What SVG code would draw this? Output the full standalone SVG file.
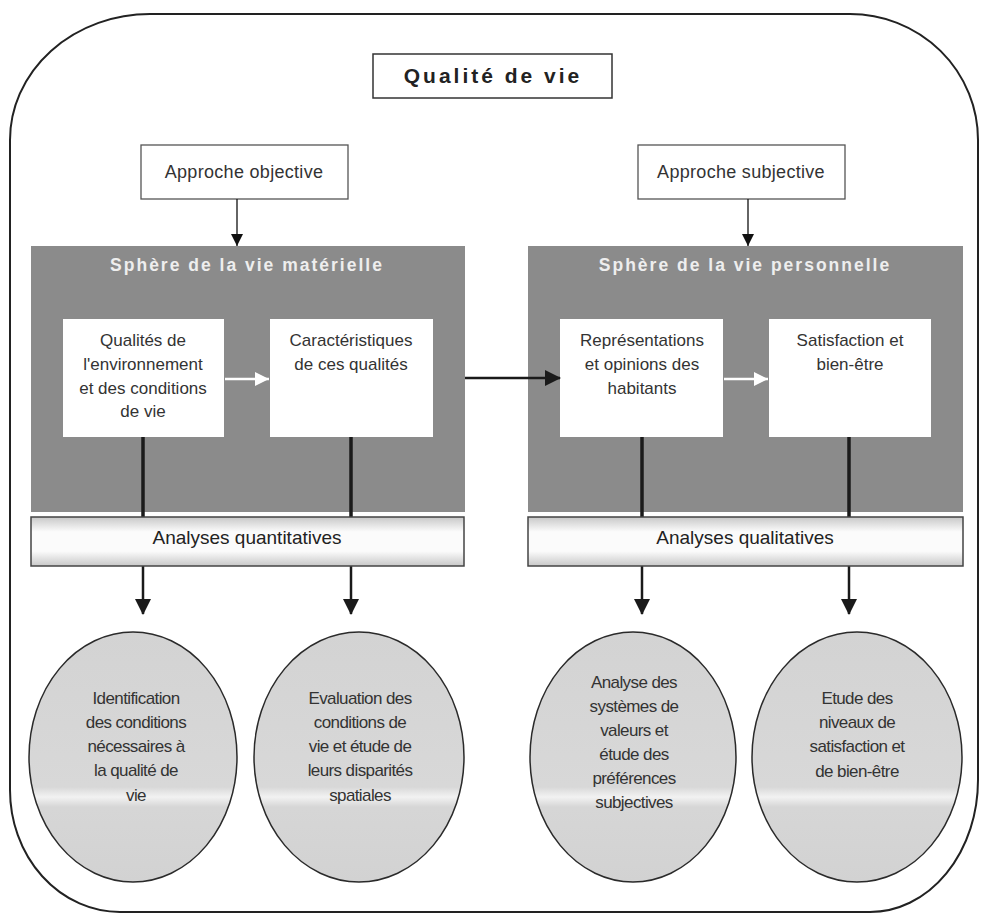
<svg xmlns="http://www.w3.org/2000/svg" width="983" height="919" viewBox="0 0 983 919">
<style>
text{font-family:"Liberation Sans",Arial,sans-serif;fill:#333;text-anchor:middle}
.title{font-size:21px;font-weight:bold;letter-spacing:3px;fill:#222}
.appr{font-size:18px;letter-spacing:0.3px}
.ptitle{font-size:17.5px;font-weight:bold;letter-spacing:2px;fill:#eee}
.box{font-size:17px}
.bar{font-size:19px;fill:#222}
.ell{font-size:17px;letter-spacing:-0.6px}
.panel{fill:#8b8b8b}
.wbox{fill:#fff}
.tbox{fill:#fff;stroke:#555;stroke-width:1.3}
.bbox{fill:url(#barg);stroke:#444;stroke-width:1.5}
.oval{fill:url(#ellg);stroke:#2a2a2a;stroke-width:1.5}
.thin{stroke:#111;stroke-width:1.3;fill:none}
.thick{stroke:#1a1a1a;stroke-width:3.5;fill:none}
.white{stroke:#fff;stroke-width:2.5;fill:none}
.mid{stroke:#1a1a1a;stroke-width:2.5;fill:none}
</style>
<defs>
<linearGradient id="barg" x1="0" y1="0" x2="0" y2="1">
<stop offset="0" stop-color="#c8c8c8"/><stop offset="0.3" stop-color="#fbfbfb"/><stop offset="0.7" stop-color="#fbfbfb"/><stop offset="1" stop-color="#c8c8c8"/>
</linearGradient>
<linearGradient id="ellg" x1="0" y1="0" x2="0" y2="1">
<stop offset="0" stop-color="#d3d3d3"/><stop offset="0.62" stop-color="#d8d8d8"/><stop offset="0.66" stop-color="#f2f2f2"/><stop offset="0.7" stop-color="#d6d6d6"/><stop offset="1" stop-color="#d2d2d2"/>
</linearGradient>
<marker id="ah" markerUnits="userSpaceOnUse" markerWidth="14" markerHeight="14" refX="12" refY="6" orient="auto"><path d="M0,0 L12,6 L0,12 Z" fill="#111"/></marker>
<marker id="ahw" markerUnits="userSpaceOnUse" markerWidth="16" markerHeight="16" refX="14" refY="7" orient="auto"><path d="M0,0 L14,7 L0,14 Z" fill="#fff"/></marker>
<marker id="ahb" markerUnits="userSpaceOnUse" markerWidth="18" markerHeight="18" refX="15" refY="8" orient="auto"><path d="M0,0 L16,8 L0,16 Z" fill="#1a1a1a"/></marker>
</defs>

<path id="frame" d="M150,14 H850 A128,126 0 0 1 978,140 V780 A108,132 0 0 1 870,912 H120 A110,122 0 0 1 10,790 V140 A140,126 0 0 1 150,14 Z" fill="none" stroke="#222" stroke-width="2"/>

<g id="n-title"><rect x="373" y="54" width="239" height="44" fill="#fff" stroke="#333" stroke-width="1.5"/><text class="title" x="493" y="83">Qualité de vie</text></g>
<g id="n-appobj"><rect class="tbox" x="141" y="145" width="207" height="54"/><text class="appr" x="244" y="178">Approche objective</text></g>
<g id="n-appsubj"><rect class="tbox" x="638" y="145" width="207" height="54"/><text class="appr" x="741" y="178">Approche subjective</text></g>

<g id="n-sphere-mat"><rect class="panel" x="31" y="246" width="434" height="266"/><text class="ptitle" x="247" y="271">Sphère de la vie matérielle</text></g>
<g id="n-sphere-pers"><rect class="panel" x="528" y="246" width="435" height="266"/><text class="ptitle" x="745" y="271">Sphère de la vie personnelle</text></g>

<g id="n-qualites"><rect class="wbox" x="63" y="319" width="161" height="118"/>
<text class="box" x="143" y="346">Qualités de</text><text class="box" x="143" y="370">l'environnement</text><text class="box" x="143" y="394">et des conditions</text><text class="box" x="143" y="417">de vie</text></g>
<g id="n-caract"><rect class="wbox" x="270" y="319" width="163" height="118"/>
<text class="box" x="351" y="346">Caractéristiques</text><text class="box" x="351" y="370">de ces qualités</text></g>
<g id="n-repr"><rect class="wbox" x="560" y="319" width="163" height="118"/>
<text class="box" x="642" y="346">Représentations</text><text class="box" x="642" y="370">et opinions des</text><text class="box" x="642" y="394">habitants</text></g>
<g id="n-satis"><rect class="wbox" x="769" y="319" width="162" height="118"/>
<text class="box" x="850" y="346">Satisfaction et</text><text class="box" x="850" y="370">bien-être</text></g>

<g id="connectors">
<line class="thin" x1="237" y1="199" x2="237" y2="246" marker-end="url(#ah)"/>
<line class="thin" x1="748" y1="199" x2="748" y2="246" marker-end="url(#ah)"/>
<line class="white" x1="225" y1="379" x2="269" y2="379" marker-end="url(#ahw)"/>
<line class="white" x1="724" y1="379" x2="768" y2="379" marker-end="url(#ahw)"/>
<line class="mid" x1="465" y1="378" x2="560" y2="378" marker-end="url(#ahb)"/>
<line class="thick" x1="143" y1="437" x2="143" y2="517"/>
<line class="thick" x1="351" y1="437" x2="351" y2="517"/>
<line class="thick" x1="642" y1="437" x2="642" y2="517"/>
<line class="thick" x1="849" y1="437" x2="849" y2="517"/>
<line class="mid" x1="143" y1="566" x2="143" y2="614" marker-end="url(#ahb)"/>
<line class="mid" x1="351" y1="566" x2="351" y2="614" marker-end="url(#ahb)"/>
<line class="mid" x1="642" y1="566" x2="642" y2="614" marker-end="url(#ahb)"/>
<line class="mid" x1="849" y1="566" x2="849" y2="614" marker-end="url(#ahb)"/>
</g>

<g id="n-quant"><rect class="bbox" x="31" y="517" width="433" height="49"/><text class="bar" x="247" y="544">Analyses quantitatives</text></g>
<g id="n-qual"><rect class="bbox" x="528" y="517" width="435" height="49"/><text class="bar" x="745" y="544">Analyses qualitatives</text></g>

<g id="n-ident"><ellipse class="oval" cx="133" cy="757" rx="104" ry="125"/>
<text class="ell" x="136" y="704">Identification</text><text class="ell" x="136" y="728">des conditions</text><text class="ell" x="136" y="752">nécessaires à</text><text class="ell" x="136" y="776">la qualité de</text><text class="ell" x="136" y="801">vie</text></g>
<g id="n-eval"><ellipse class="oval" cx="359" cy="757" rx="105" ry="125"/>
<text class="ell" x="360" y="704">Evaluation des</text><text class="ell" x="360" y="728">conditions de</text><text class="ell" x="360" y="752">vie et étude de</text><text class="ell" x="360" y="776">leurs disparités</text><text class="ell" x="360" y="801">spatiales</text></g>
<g id="n-analyse"><ellipse class="oval" cx="633" cy="757" rx="103" ry="125"/>
<text class="ell" x="634" y="688">Analyse des</text><text class="ell" x="634" y="712">systèmes de</text><text class="ell" x="634" y="736">valeurs et</text><text class="ell" x="634" y="760">étude des</text><text class="ell" x="634" y="784">préférences</text><text class="ell" x="634" y="808">subjectives</text></g>
<g id="n-etude"><ellipse class="oval" cx="857" cy="757" rx="105" ry="125"/>
<text class="ell" x="857" y="704">Etude des</text><text class="ell" x="857" y="728">niveaux de</text><text class="ell" x="857" y="752">satisfaction et</text><text class="ell" x="857" y="777">de bien-être</text></g>
</svg>
